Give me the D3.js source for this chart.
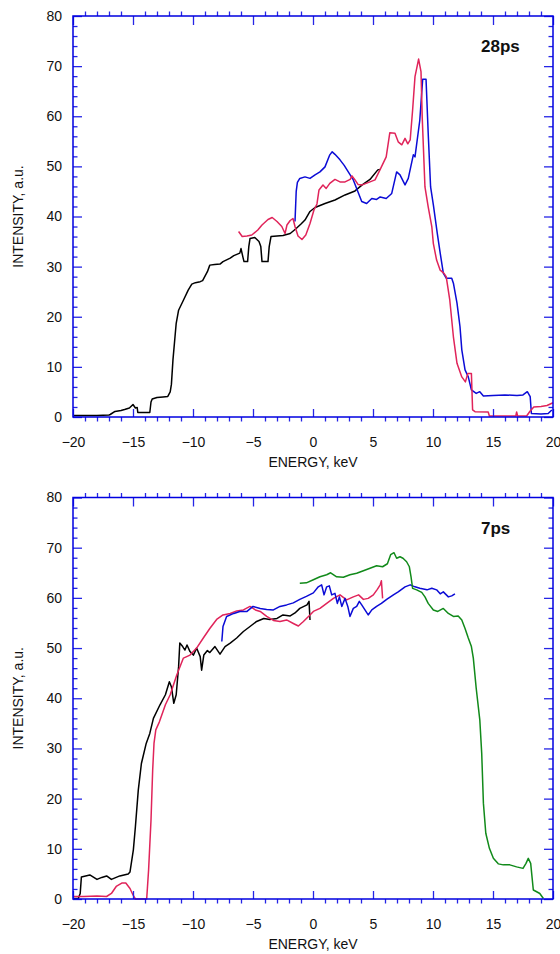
<!DOCTYPE html>
<html>
<head>
<meta charset="utf-8">
<script src="https://cdn.jsdelivr.net/npm/d3@7"></script>
<style>
  html, body { margin: 0; padding: 0; background: #fff; }
  svg { display: block; }
  text { font-family: "Liberation Sans", Arial, sans-serif; }
</style>
</head>
<body>
<svg id="chart" width="560" height="954"></svg>
<script>
// ---------- DATA ----------
const xMajorTicks = [-20, -15, -10, -5, 0, 5, 10, 15, 20];
const yMajorTicks = [0, 10, 20, 30, 40, 50, 60, 70, 80];
const xLabel = "ENERGY, keV";
const yLabel = "INTENSITY, a.u.";
const panelTitles = ["28ps", "7ps"];

// 28 ps panel
const top28Black = [[-20,0.3],[-18,0.3],[-17,0.4],[-16.9,0.5],[-16.5,1.1],[-16,1.3],[-15.7,1.5],[-15.3,1.8],[-15,2.5],[-14.8,1.8],[-14.65,1.9],[-14.6,0.9],[-13.6,0.9],[-13.5,3.0],[-13.4,3.6],[-13,3.9],[-12.5,4.0],[-12.1,4.1],[-11.9,5.0],[-11.8,6.5],[-11.67,11.4],[-11.5,16],[-11.4,18.7],[-11.2,21.3],[-10.8,23.3],[-10.4,25.3],[-10.1,26.5],[-9.8,26.8],[-9.4,27.0],[-9.2,27.2],[-8.8,29],[-8.6,30.3],[-8.2,30.4],[-7.75,30.5],[-7.5,31],[-6.9,31.7],[-6.6,32.2],[-6.3,32.5],[-6.1,32.7],[-6.0,33.6],[-5.85,32],[-5.75,31],[-5.45,31],[-5.35,34],[-5.25,35.6],[-4.85,35.8],[-4.5,35],[-4.35,34],[-4.25,31],[-3.75,31],[-3.65,34],[-3.5,36],[-3,36.1],[-2.5,36.2],[-1.9,36.6],[-1.4,37.6],[-1,38.5],[-0.67,39.3],[-0.25,41],[0.17,41.8],[1,42.6],[1.83,43.3],[2.67,44.3],[3.5,45.1],[4.1,46.3],[4.75,47.4],[5.4,49.3],[5.6,49.4]];
const top28Red = [[-6.2,37],[-5.9,36],[-5.5,36.1],[-5.1,36.3],[-4.6,37.3],[-4.25,38.3],[-3.75,39.4],[-3.4,39.8],[-3,39],[-2.6,38],[-2.33,36.6],[-2.17,38.3],[-1.9,39.2],[-1.67,39.6],[-1.5,38],[-1.25,36.1],[-0.92,35.4],[-0.6,36.3],[-0.25,38.6],[0.08,41.3],[0.33,42.5],[0.5,45.3],[0.83,46.3],[1.1,45.6],[1.4,46.6],[1.83,47.4],[2.25,46.9],[2.67,46.9],[3.1,47.4],[3.25,48.1],[3.5,47.3],[3.75,46.4],[4.1,46.3],[4.75,46.9],[5.17,47.3],[5.6,49.4],[6.1,51.9],[6.4,56.7],[6.83,56.6],[7.1,54.9],[7.4,54.3],[7.67,55.6],[7.9,54.5],[8.1,55.3],[8.3,61.2],[8.5,67.9],[8.8,71.4],[9,68.9],[9.1,59.9],[9.33,45.9],[9.6,41.9],[9.9,38],[10.03,34.6],[10.3,31.3],[10.6,29.3],[10.9,28.7],[11.1,28],[11.4,23.3],[11.7,16],[12,10.7],[12.4,8],[12.7,7],[12.9,8.7],[13.2,8.7],[13.3,1.4],[13.5,1.06],[14.6,1.0],[14.7,0.2],[16.9,0.2],[16.97,1],[17.05,0.2],[17.8,0.2],[18.1,1.2],[18.4,2],[19,2.1],[19.5,2.3],[20,2.85]];
const top28Blue = [[-1.5,39],[-1.4,45],[-1.3,46.8],[-1.1,47.6],[-0.67,47.9],[-0.25,47.6],[0.17,48.3],[0.58,48.9],[1,49.9],[1.4,52.3],[1.6,52.9],[1.83,52.4],[2.25,51.3],[2.6,50.2],[2.94,48.9],[3.36,47.3],[3.8,44.6],[4.06,43],[4.47,42.6],[4.9,43.6],[5.3,43.4],[5.6,43.9],[6.1,43.6],[6.56,44.6],[6.97,48.9],[7.25,48.3],[7.67,46.3],[7.94,47.6],[8.36,52.3],[8.5,51.9],[8.9,59.2],[9.14,67.4],[9.42,67.4],[9.6,56.6],[9.8,45.9],[10.03,42.3],[10.36,36.6],[10.6,32.7],[10.86,28.7],[11.1,27.7],[11.56,27.7],[11.7,26.7],[12,22.7],[12.25,18],[12.4,13.4],[12.67,9.4],[12.94,8],[13.2,5.4],[13.6,4.7],[13.9,5.05],[14.2,4.2],[15,4.3],[16,4.4],[17,4.3],[17.5,4.4],[17.86,5.05],[18.1,4.05],[18.2,0.7],[19,0.6],[19.6,0.7],[19.9,1.4]];

// 7 ps panel
const bot7Black = [[-20,0.1],[-19.56,0.1],[-19.4,1.1],[-19.3,4.4],[-18.6,4.8],[-18,3.9],[-17.6,4.3],[-17.2,4.6],[-16.8,3.9],[-16.1,4.6],[-15.4,5],[-15.25,5.4],[-14.97,9.8],[-14.8,14.4],[-14.56,21.7],[-14.3,27],[-13.9,31],[-13.6,33],[-13.3,36],[-12.75,38.7],[-12.3,40.7],[-11.97,43.3],[-11.8,42.3],[-11.6,39],[-11.4,40.7],[-11.2,46.3],[-11.1,51],[-10.86,50.3],[-10.67,49.6],[-10.5,50.6],[-10.25,49.3],[-9.97,48.6],[-9.7,50],[-9.4,48.3],[-9.28,45.6],[-9.1,48.6],[-8.8,49.5],[-8.6,49.1],[-8.17,50.3],[-7.75,48.8],[-7.33,50.3],[-6.9,51],[-6.36,52],[-5.8,53.3],[-5.25,54.3],[-4.7,55.3],[-4.1,55.9],[-3.6,55.7],[-3,55.9],[-2.5,56.6],[-1.9,56.4],[-1.5,57],[-1.1,57.9],[-0.5,58.6],[-0.33,59.3],[-0.25,55.6]];
const bot7Red = [[-20,0.5],[-19.1,0.5],[-18,0.6],[-17.2,0.5],[-16.8,1.1],[-16.4,2.5],[-15.9,3.2],[-15.6,3.2],[-15.25,2.1],[-15,0.8],[-14.8,0],[-13.86,0],[-13.7,5.8],[-13.5,15.7],[-13.36,25.7],[-13.25,31],[-13.1,33.7],[-12.8,35.3],[-12.3,38.7],[-11.9,40.7],[-11.36,44.6],[-10.8,48],[-10.25,48.6],[-9.7,50],[-9.14,52],[-8.6,53.9],[-8.03,55.7],[-7.5,56.6],[-6.9,56.9],[-6.36,57.4],[-5.8,57.6],[-5.25,58.3],[-4.8,57.6],[-4.4,57.3],[-3.86,56.3],[-3.3,55.5],[-2.75,55.3],[-2.2,55.6],[-1.64,54.9],[-1.22,54.4],[-0.8,55.3],[-0.25,56.6],[0.03,57.3],[0.58,57.9],[1.14,58.9],[1.7,59.9],[2.25,60.6],[2.8,59.6],[3.36,60.2],[3.8,60.6],[4.2,59.7],[4.6,59.9],[5.03,60.6],[5.36,61.7],[5.6,62.6],[5.7,63.4],[5.8,59.9]];
const bot7Blue = [[-7.6,51.3],[-7.5,54.3],[-7.2,56.3],[-6.6,56.9],[-6.1,57.3],[-5.5,57.3],[-5,58.3],[-4.4,57.9],[-3.86,57.7],[-3.3,57.6],[-2.75,58.3],[-2.2,58.6],[-1.64,59],[-1.1,59.7],[-0.55,60.3],[0.03,61],[0.44,62.2],[0.72,62.6],[0.92,60.6],[1.14,62.2],[1.36,62.4],[1.56,60.6],[1.83,60.9],[2.03,58.9],[2.2,60.2],[2.4,58.3],[2.67,59.9],[2.9,58.3],[3.08,56.3],[3.36,57.9],[3.64,58.3],[3.86,59.3],[4.06,58.6],[4.33,57.6],[4.6,56.6],[4.9,57.6],[5.3,58.3],[5.7,58.9],[6.14,59.7],[6.7,60.6],[7.1,61.2],[7.67,62.2],[8.1,62.6],[8.5,62.2],[8.9,61.9],[9.5,61.6],[9.9,61.9],[10.3,61.6],[10.6,60.8],[10.86,61.2],[11.28,60.2],[11.56,60.4],[11.83,60.8]];
const bot7Green = [[-1.1,62.9],[-0.55,63],[0.03,63.6],[0.58,64.2],[1.14,64.6],[1.47,65],[1.97,64.2],[2.53,64.1],[3.08,64.6],[3.64,64.9],[4.2,65.4],[4.75,65.9],[5.3,66.4],[5.8,66.2],[6.2,66.8],[6.47,68.6],[6.75,69],[6.97,67.9],[7.25,68.2],[7.5,67.9],[7.8,67.2],[8.03,66.2],[8.17,64.2],[8.3,61.9],[8.64,61.6],[9.06,61.1],[9.33,60.2],[9.6,58.9],[10.03,57.6],[10.4,57.3],[10.86,57.9],[11.28,56.9],[11.7,56.3],[12.1,56.4],[12.4,55.6],[12.67,53.9],[12.94,52],[13.2,50.3],[13.36,48],[13.6,42],[13.9,35.7],[14.06,29],[14.2,19.1],[14.4,13.1],[14.7,10.1],[15.03,8.1],[15.44,7],[15.86,6.8],[16.4,6.8],[16.97,6.4],[17.5,6.1],[17.75,7.1],[17.94,8.1],[18.14,7.1],[18.36,1.8],[18.6,1.5],[18.9,1.1],[19.2,0.1]];

// ---------- DRAWING ----------
const colors = { black: "#000000", red: "#e0245a", blue: "#0b0bd6", green: "#118a1a" };
const axisBlue = "#2525e6";
const svg = d3.select("#chart");
const W = 560;
const left = 73, right = 553;

const xMinor = d3.range(-20, 20.001, 1).filter(v => v % 5 !== 0);
const yMinor = d3.range(0, 80.001, 2).filter(v => v % 10 !== 0);

const panels = [
  { top: 16, bottom: 417, title: panelTitles[0], titleY: 52,
    series: [[top28Black, colors.black], [top28Blue, colors.blue], [top28Red, colors.red]] },
  { top: 497.5, bottom: 899, title: panelTitles[1], titleY: 534,
    series: [[bot7Black, colors.black], [bot7Red, colors.red], [bot7Blue, colors.blue], [bot7Green, colors.green]] }
];

panels.forEach(p => {
  const x = d3.scaleLinear().domain([-20, 20]).range([left, right]);
  const y = d3.scaleLinear().domain([0, 80]).range([p.bottom, p.top]);
  const g = svg.append("g");

  // lines
  const line = d3.line().x(d => x(d[0])).y(d => y(d[1]));
  p.series.forEach(([data, col]) => {
    g.append("path").datum(data)
      .attr("fill", "none").attr("stroke", col)
      .attr("stroke-width", 1.5).attr("stroke-linejoin", "round")
      .attr("d", line);
  });

  const styleAxis = sel => {
    sel.select(".domain").remove();
    sel.selectAll(".tick line").attr("stroke", axisBlue).attr("stroke-width", 1.3);
    sel.selectAll(".tick text").attr("fill", "#111").style("font-size", "14px")
      .style("font-family", '"Liberation Sans", Arial, sans-serif');
  };

  // bottom axis: major inward with labels, minor outward
  g.append("g").attr("transform", `translate(0,${p.bottom})`)
    .call(d3.axisBottom(x).tickValues(xMajorTicks).tickSize(-8).tickSizeOuter(0).tickPadding(20).tickFormat(d3.format("d")))
    .call(styleAxis);
  g.append("g").attr("transform", `translate(0,${p.bottom})`)
    .call(d3.axisBottom(x).tickValues(xMinor).tickSize(4.5).tickSizeOuter(0).tickFormat(""))
    .call(styleAxis);
  // top axis
  g.append("g").attr("transform", `translate(0,${p.top})`)
    .call(d3.axisTop(x).tickValues(xMajorTicks).tickSize(-9).tickSizeOuter(0).tickFormat(""))
    .call(styleAxis);
  g.append("g").attr("transform", `translate(0,${p.top})`)
    .call(d3.axisTop(x).tickValues(xMinor).tickSize(4.5).tickSizeOuter(0).tickFormat(""))
    .call(styleAxis);
  // left axis
  g.append("g").attr("transform", `translate(${left},0)`)
    .call(d3.axisLeft(y).tickValues(yMajorTicks).tickSize(-9).tickSizeOuter(0).tickPadding(11).tickFormat(d3.format("d")))
    .call(styleAxis);
  g.append("g").attr("transform", `translate(${left},0)`)
    .call(d3.axisLeft(y).tickValues(yMinor).tickSize(-4.5).tickSizeOuter(0).tickFormat(""))
    .call(styleAxis);
  // right axis
  g.append("g").attr("transform", `translate(${right},0)`)
    .call(d3.axisRight(y).tickValues(yMajorTicks).tickSize(-9).tickSizeOuter(0).tickFormat(""))
    .call(styleAxis);
  g.append("g").attr("transform", `translate(${right},0)`)
    .call(d3.axisRight(y).tickValues(yMinor).tickSize(-4.5).tickSizeOuter(0).tickFormat(""))
    .call(styleAxis);

  // frame
  g.append("rect").attr("x", left).attr("y", p.top)
    .attr("width", right - left).attr("height", p.bottom - p.top)
    .attr("fill", "none").attr("stroke", "#0000e0").attr("stroke-width", 1.5);

  // axis titles
  g.append("text").attr("x", (left + right) / 2).attr("y", p.bottom + 50)
    .attr("text-anchor", "middle").style("font-size", "14px").attr("fill", "#111")
    .text(xLabel);
  g.append("text")
    .attr("transform", `translate(23,${(p.top + p.bottom) / 2}) rotate(-90)`)
    .attr("text-anchor", "middle").style("font-size", "14px").attr("fill", "#111")
    .text(yLabel);

  // panel label
  g.append("text").attr("x", 481).attr("y", p.titleY)
    .style("font-size", "17px").style("font-weight", "bold").attr("fill", "#111")
    .text(p.title);
});
</script>
</body>
</html>
